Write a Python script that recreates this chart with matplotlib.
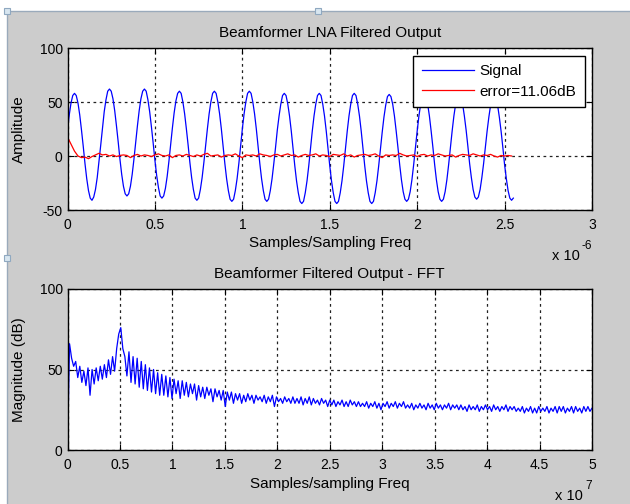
import numpy as np
import matplotlib
matplotlib.use("Agg")
import matplotlib.pyplot as plt
from matplotlib.ticker import FuncFormatter
from matplotlib.patches import Rectangle

plt.rcParams['font.family'] = ['Liberation Sans', 'DejaVu Sans']
plt.rcParams['axes.unicode_minus'] = False

# ---------------- data ----------------
sample_period = 1e-8          # seconds per sample (top panel)
signal = [
    24, 38, 49, 56,
    58, 56, 49, 38, 24, 9, -7, -21, -32, -39, -41,
    -38, -31, -20, -5, 10, 26, 41, 52, 60, 62,
    60, 53, 42, 28, 13, -3, -17, -28, -35, -37,
    -35, -28, -17, -3, 13, 28, 42, 53, 60, 62,
    60, 52, 41, 27, 12, -4, -18, -29, -37, -39,
    -37, -30, -19, -5, 11, 26, 40, 51, 58, 60,
    58, 50, 39, 25, 10, -6, -20, -31, -39, -41,
    -39, -31, -20, -6, 10, 25, 39, 50, 58, 60,
    58, 50, 39, 25, 9, -7, -21, -32, -40, -42,
    -40, -32, -21, -7, 9, 25, 39, 50, 58, 60,
    58, 50, 39, 25, 9, -7, -21, -32, -40, -42,
    -40, -32, -21, -7, 8, 24, 37, 48, 56, 58,
    56, 48, 37, 23, 7, -9, -23, -34, -42, -44,
    -42, -34, -23, -9, 7, 23, 37, 48, 56, 58,
    56, 48, 37, 23, 7, -9, -23, -34, -42, -44,
    -42, -34, -23, -9, 7, 23, 37, 48, 56, 58,
    56, 48, 37, 23, 7, -9, -23, -34, -42, -44,
    -42, -34, -23, -9, 7, 22, 36, 47, 55, 57,
    55, 48, 37, 23, 8, -8, -22, -33, -40, -42,
    -40, -33, -22, -8, 8, 23, 37, 48, 55, 57,
    55, 48, 37, 23, 8, -8, -22, -33, -40, -42,
    -40, -33, -22, -8, 8, 23, 37, 48, 55, 57,
    55, 48, 37, 24, 9, -7, -20, -31, -38, -40,
    -38, -31, -20, -7, 8, 23, 36, 47, 54, 56,
    54, 47, 36, 23, 8, -8, -21, -32, -39, -41,
    -39,
]

error_period = 2e-8
error = [
    17.5, 11.0, 4.5, 0.0, -1.5, -1.0, -2.5, -0.5, 1.0, 2.5, 1.0, 1.5, 0.0, 1.0, -0.5, 0.5,
    1.0, 0.5, -1.5, 0.5, 1.5, 0.0, 1.0, 0.5, -0.5, 1.0, 2.0, 0.5, 0.0, 1.0, -1.5, 0.5,
    1.0, 0.0, 1.5, 0.5, -0.5, 1.0, 0.0, 1.5, 2.5, 0.0, 0.5, 1.0, -1.0, 0.5, 1.0, 0.5,
    2.0, 0.0, -1.5, 1.0, 0.5, 1.0, 0.0, 2.0, 1.0, 0.5, -0.5, 1.0, 1.5, 0.0, 1.0, 2.0,
    0.5, 1.0, -1.0, 0.5, 1.5, 0.5, 1.0, 2.0, 0.0, 1.0, 0.5, -0.5, 1.5, 1.0, 0.5, 2.0,
    0.0, 1.0, -1.0, 0.5, 1.0, 1.5, 0.5, 1.0, 2.0, 0.0, -1.5, 1.0, 0.5, 1.0, 0.5, 2.5,
    1.0, 0.0, 0.5, 1.0, -0.5, 1.0, 1.5, 0.0, 1.0, 0.5, 2.0, 1.0, 0.0, 0.5, 1.0, -1.0,
    0.5, 1.5, 1.0, 0.5, 2.0, 1.0, 0.0, 1.0, 0.5, 1.5, 0.0, -1.0, 0.5, 0.0, 0.5, 0.0,
]

fft_max_freq = 5e7
fft_mag = [
    0, 66, 57, 52, 55, 45, 52, 42, 49, 40, 51, 34, 50, 41, 51, 43,
    52, 44, 53, 45, 56, 47, 58, 49, 63, 72, 76, 63, 58, 46, 61, 42,
    58, 41, 57, 39, 55, 38, 53, 37, 51, 36, 50, 35, 48, 34, 47, 34,
    46, 33, 45, 32, 44, 35, 43, 32, 43, 34, 42, 33, 41, 35, 41, 31,
    40, 33, 39, 32, 39, 34, 38, 30, 38, 33, 37, 31, 37, 27, 36, 31,
    36, 29, 35, 31, 35, 29, 34, 30, 35, 31, 34, 29, 34, 31, 33, 30,
    34, 29, 33, 30, 34, 27, 33, 30, 32, 29, 33, 30, 32, 29, 33, 29,
    32, 29, 33, 28, 32, 29, 33, 28, 32, 29, 31, 28, 32, 29, 31, 27,
    31, 28, 31, 27, 30, 28, 31, 27, 30, 27, 31, 28, 30, 27, 30, 27,
    29, 27, 30, 26, 29, 27, 30, 26, 29, 25, 29, 27, 30, 26, 29, 27,
    30, 26, 29, 27, 30, 26, 28, 26, 29, 25, 28, 26, 29, 26, 28, 25,
    29, 26, 28, 25, 29, 26, 28, 25, 28, 26, 29, 25, 28, 26, 28, 25,
    28, 25, 27, 24, 28, 25, 27, 25, 28, 24, 27, 25, 28, 25, 27, 24,
    28, 25, 27, 24, 27, 25, 28, 24, 27, 25, 27, 24, 26, 24, 27, 23,
    26, 24, 27, 23, 26, 23, 27, 24, 26, 24, 27, 23, 26, 24, 27, 23,
    27, 24, 27, 23, 26, 24, 27, 23, 27, 24, 26, 23, 27, 24, 27, 24,
    26,
]

top_xticks = [0, 0.5, 1, 1.5, 2, 2.5, 3]          # x 1e-6
top_yticks = [-50, 0, 50, 100]
bot_xticks = [0, 0.5, 1, 1.5, 2, 2.5, 3, 3.5, 4, 4.5, 5]   # x 1e7
bot_yticks = [0, 50, 100]

# ---------------- figure ----------------
W, H = 630, 504
fig = plt.figure(figsize=(W / 100, H / 100), dpi=100, facecolor='#cccccc')

def fx(px):
    return px / W

def fy(py):
    return 1 - py / H

# window frame decorations
fig.patches.append(Rectangle((0, fy(11)), 1, 11 / H, transform=fig.transFigure,
                             facecolor='white', edgecolor='none', zorder=-5))
fig.patches.append(Rectangle((0, 0), 7 / W, 1, transform=fig.transFigure,
                             facecolor='white', edgecolor='none', zorder=-5))
fig.add_artist(plt.Line2D([fx(7), 1], [fy(11), fy(11)], transform=fig.transFigure,
                          color='#9aaabb', lw=1.0))
fig.add_artist(plt.Line2D([fx(7), fx(7)], [0, fy(11)], transform=fig.transFigure,
                          color='#9aaabb', lw=1.0))
for hx, hy in [(7, 11), (318, 11), (7, 258)]:
    fig.patches.append(Rectangle((fx(hx - 3), fy(hy + 3)), 6 / W, 6 / H,
                                 transform=fig.transFigure, facecolor='#d8e6f0',
                                 edgecolor='#8fa8c0', lw=0.8, zorder=5))

ax1 = fig.add_axes([fx(67.5), fy(210), (592 - 67.5) / W, (210 - 48) / H])
ax2 = fig.add_axes([fx(67.5), fy(450), (592 - 67.5) / W, (450 - 289) / H])

t_sig = np.arange(len(signal)) * sample_period
t_err = np.arange(len(error)) * error_period
freq = np.linspace(0, fft_max_freq, len(fft_mag))

l1, = ax1.plot(t_sig, signal, color='#0000ff', lw=0.9, label='Signal')
l2, = ax1.plot(t_err, error, color='#ff0000', lw=0.9, label='error=11.06dB')

ax2.plot(freq, fft_mag, color='#0000ff', lw=0.9)

def style(ax, xticks, xscale, yticks, xlim, ylim):
    ax.set_facecolor('white')
    ax.set_xlim(*xlim)
    ax.set_ylim(*ylim)
    ax.set_xticks([v * xscale for v in xticks])
    ax.xaxis.set_major_formatter(FuncFormatter(lambda v, p: f"{v / xscale:g}"))
    ax.set_yticks(yticks)
    ax.tick_params(direction='in', top=True, right=True, length=4, width=0.8,
                   labelsize=10, colors='black')
    ax.tick_params(axis='x', pad=6)
    ax.tick_params(axis='y', pad=3.5)
    ax.grid(True, color='#222222', linestyle=(0, (2.2, 2.8)), lw=0.9)
    for s in ax.spines.values():
        s.set_color('black')
        s.set_linewidth(1.0)

style(ax1, top_xticks, 1e-6, top_yticks, (0, 3e-6), (-50, 100))
style(ax2, bot_xticks, 1e7, bot_yticks, (0, 5e7), (0, 100))

LF = 11
ax1.set_title('Beamformer LNA Filtered Output', fontsize=LF, pad=8)
ax2.set_title('Beamformer Filtered Output - FFT', fontsize=LF, pad=8)
ax1.set_xlabel('Samples/Sampling Freq', fontsize=LF)
ax1.set_ylabel('Amplitude', fontsize=LF)
ax2.set_xlabel('Samples/sampling Freq', fontsize=LF)
ax2.set_ylabel('Magnitude (dB)', fontsize=LF)
ax1.xaxis.set_label_coords(0.5, -0.16)
ax2.xaxis.set_label_coords(0.5, -0.165)
ax1.yaxis.set_label_coords(-0.08, 0.5)
ax2.yaxis.set_label_coords(-0.08, 0.5)

# exponent labels
fig.text(fx(552), fy(260), 'x 10', fontsize=10.5, ha='left', va='baseline')
fig.text(fx(582), fy(249), '-6', fontsize=8.5, ha='left', va='baseline')
fig.text(fx(555), fy(500), 'x 10', fontsize=10.5, ha='left', va='baseline')
fig.text(fx(585), fy(489), '7', fontsize=8.5, ha='left', va='baseline')

leg = ax1.legend(handles=[l1, l2], loc='upper right',
                 bbox_to_anchor=(fx(585), fy(56)), bbox_transform=fig.transFigure,
                 borderaxespad=0, fancybox=False, framealpha=1, edgecolor='black',
                 fontsize=11, handlelength=3.4, handletextpad=0.4,
                 labelspacing=0.42, borderpad=0.55)
leg.get_frame().set_linewidth(1.0)

fig.savefig('out.png', dpi=100, facecolor=fig.get_facecolor())
